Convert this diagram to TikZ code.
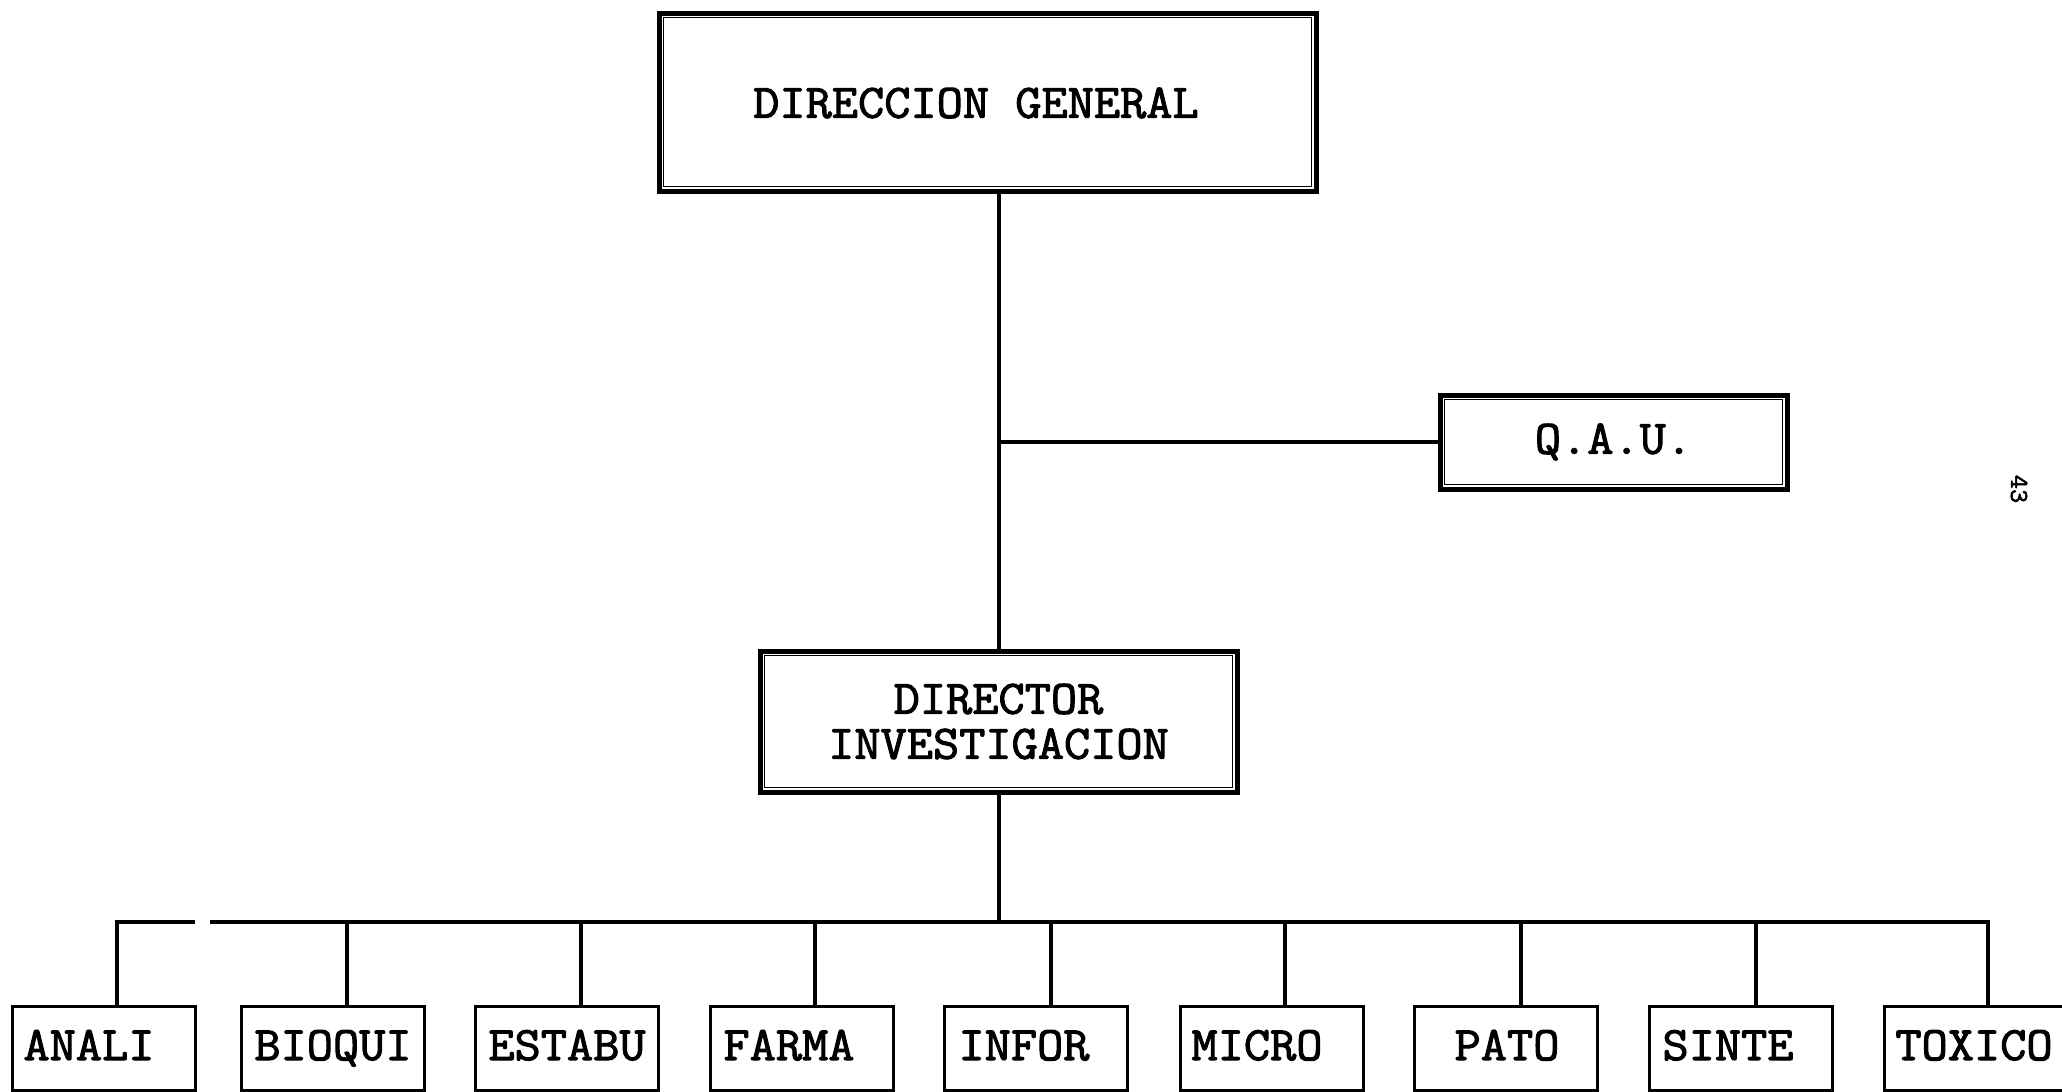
\documentclass[tikz,border=0pt]{standalone}
\usepackage{fontspec}
\newfontfamily\typewriter[FakeBold=2.2,FakeStretch=1.06]{Latin Modern Mono}
\begin{document}
\begin{tikzpicture}[x=1pt,y=-1pt,
  lbl/.style={font=\fontsize{48}{45}\selectfont\typewriter, align=center, inner sep=0pt},
  mainbox/.style={lbl, draw, line width=5pt},
  unitbox/.style={draw, line width=3pt, minimum width=183pt, minimum height=84pt, inner sep=0pt},
  unittext/.style={lbl, text height=24pt, text depth=0pt},
  link/.style={line width=4pt, line join=miter},
  inner/.style={line width=1.6pt}
]
\useasboundingbox (0,0) rectangle (2062,1092);

% upper levels
\node[mainbox, minimum width=657pt, minimum height=178pt] (top) at (987.5,102) {};
\node[lbl] (toptext) at (976,103) {DIRECCION GENERAL};
\node[mainbox, minimum width=347pt, minimum height=94pt] (qau) at (1613.5,442) {Q.A.U.};
\node[mainbox, minimum width=477pt, minimum height=141pt] (dir) at (998.5,721.5) {DIRECTOR\\INVESTIGACION};

% thin inner frames of the double-ruled boxes
\foreach \b in {top,qau,dir}{
  \draw[inner] ([shift={(7,7)}]\b.north west) rectangle ([shift={(-7,-7)}]\b.south east);
}

% research units: frame, then its caption
\foreach \n/\cx/\tx/\t in {analis/104/89/ANALI, bioqui/332.5/333/BIOQUI, estabu/567/567/ESTABU,
    farma/802/789/FARMA, infor/1036/1024/INFOR, micro/1272/1257/MICRO,
    pato/1506/1507/PATO, sinte/1741/1728/SINTE, toxico/1976/1974/TOXICO}{
  \node[unitbox] (\n) at (\cx,1048) {};
  \node[unittext] (\n-t) at (\tx,1048) {\t};
}

% trunk and staff branch
\coordinate (tr) at (dir.north |- top.south);
\draw[link] (tr) -- (dir.north);
\coordinate (qj) at (dir.north |- qau.west);
\draw[link] (qj) -- (qau.west);

% distribution bus
\coordinate (bus) at (dir.south |- 0,922);
\draw[link] (dir.south) -- (bus);
\coordinate (b1) at (117,922);
\coordinate (b2) at (347,922);
\coordinate (b3) at (581,922);
\coordinate (b4) at (815,922);
\coordinate (b5) at (1051,922);
\coordinate (b6) at (1285,922);
\coordinate (b7) at (1521,922);
\coordinate (b8) at (1756,922);
\coordinate (b9) at (1988,922);
\coordinate (gl) at (195,922);
\coordinate (gr) at (210,922);
\draw[link] (b1 |- analis.north) -- (b1) -- (gl);
\draw[link] (gr) -- (b9) -- (b9 |- toxico.north);
\foreach \c/\n in {b2/bioqui,b3/estabu,b4/farma,b5/infor,b6/micro,b7/pato,b8/sinte}{
  \draw[link] (\c) -- (\c |- \n.north);
}

% page number
\node[font=\fontsize{26}{28}\selectfont\typewriter, rotate=-90, inner sep=0pt] (pg) at (2019,489) {43};
\end{tikzpicture}
\end{document}
